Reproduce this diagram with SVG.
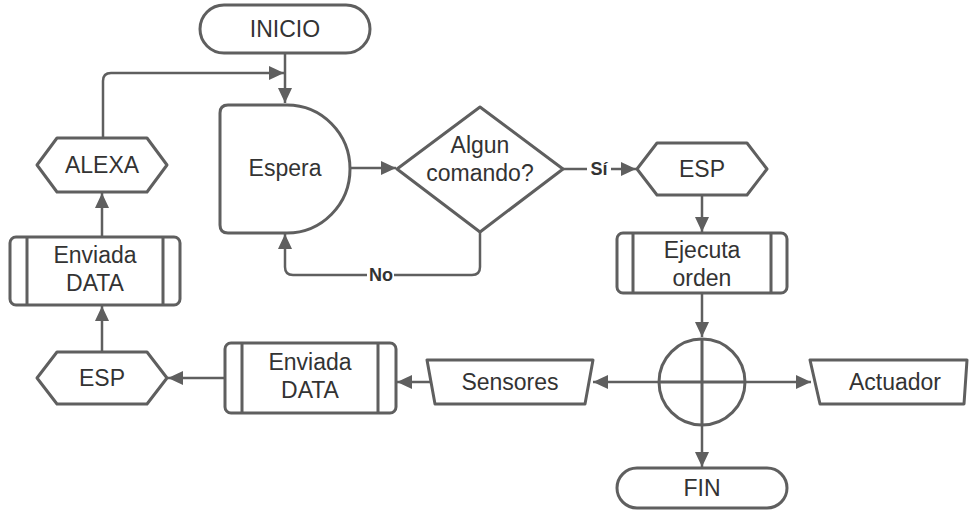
<svg xmlns="http://www.w3.org/2000/svg" width="969" height="510" viewBox="0 0 969 510">
<style>
.s{fill:#fff;stroke:#5f5f5f;stroke-width:3;stroke-linejoin:round}
.c{fill:none;stroke:#5f5f5f;stroke-width:2.5}
.t{font-family:"Liberation Sans",Arial,sans-serif;font-size:23px;fill:#333;text-anchor:middle}
.l{font-family:"Liberation Sans",Arial,sans-serif;font-size:18px;font-weight:bold;fill:#333;text-anchor:middle}
</style>
<defs>
<marker id="a" markerUnits="userSpaceOnUse" markerWidth="16" markerHeight="14" refX="15" refY="7" orient="auto">
<path d="M0,0 L15,7 L0,14 Z" fill="#5f5f5f"/>
</marker>
</defs>
<rect width="969" height="510" fill="#fff"/>
<g id="connectors">
<path class="c" d="M285,53 V103" marker-end="url(#a)"/>
<path class="c" d="M103,138 V81 Q103,73 111,73 H284" marker-end="url(#a)"/>
<path class="c" d="M350,168 H396" marker-end="url(#a)"/>
<path class="c" d="M563,169 H636" marker-end="url(#a)"/>
<path class="c" d="M702,195 V232" marker-end="url(#a)"/>
<path class="c" d="M702,293 V337" marker-end="url(#a)"/>
<path class="c" d="M659,382 H593" marker-end="url(#a)"/>
<path class="c" d="M745,382 H811" marker-end="url(#a)"/>
<path class="c" d="M702,426 V467" marker-end="url(#a)"/>
<path class="c" d="M430,382 H397" marker-end="url(#a)"/>
<path class="c" d="M225,378 H168" marker-end="url(#a)"/>
<path class="c" d="M102,352 V306" marker-end="url(#a)"/>
<path class="c" d="M102,237 V193" marker-end="url(#a)"/>
<path class="c" d="M480,232 V267 Q480,275 472,275 H293 Q285,275 285,267 V234" marker-end="url(#a)"/>
<rect x="587" y="160" width="24" height="18" fill="#fff"/>
<text class="l" x="599" y="175">Sí</text>
<rect x="367" y="266" width="27" height="18" fill="#fff"/>
<text class="l" x="381" y="281">No</text>
</g>
<g id="inicio">
<rect class="s" x="200" y="5" width="170" height="48" rx="24"/>
<text class="t" x="285" y="37">INICIO</text>
</g>
<g id="espera">
<path class="s" d="M228,105 H287 A63,64 0 0 1 287,233 H228 Q220,233 220,225 V113 Q220,105 228,105 Z"/>
<text class="t" x="285" y="176">Espera</text>
</g>
<g id="decision">
<path class="s" d="M480,107 L563,169 L480,232 L397,169 Z"/>
<text class="t" x="480" y="153">Algun</text>
<text class="t" x="480" y="181">comando?</text>
</g>
<g id="esp1">
<path class="s" d="M657,143 H747 L767,169 L747,195 H657 L637,169 Z"/>
<text class="t" x="702" y="177">ESP</text>
</g>
<g id="ejecuta">
<rect class="s" x="617" y="233" width="170" height="60" rx="6"/>
<path class="c" d="M633,233 V293 M771,233 V293" style="stroke-width:3"/>
<text class="t" x="702" y="258">Ejecuta</text>
<text class="t" x="702" y="286">orden</text>
</g>
<g id="or">
<circle class="s" cx="702" cy="382" r="43"/>
<path class="c" d="M702,339 V425 M659,382 H745" style="stroke-width:3"/>
</g>
<g id="sensores">
<path class="s" d="M427,360 H593 L585,404 H435 Z"/>
<text class="t" x="510" y="390">Sensores</text>
</g>
<g id="actuador">
<path class="s" d="M810,360 H967 L964,404 H820 Z"/>
<text class="t" x="895" y="390">Actuador</text>
</g>
<g id="fin">
<rect class="s" x="617" y="468" width="170" height="40" rx="20"/>
<text class="t" x="702" y="496">FIN</text>
</g>
<g id="enviada2">
<rect class="s" x="225" y="343" width="171" height="70" rx="6"/>
<path class="c" d="M242,343 V413 M378,343 V413" style="stroke-width:3"/>
<text class="t" x="310" y="370">Enviada</text>
<text class="t" x="310" y="398">DATA</text>
</g>
<g id="esp2">
<path class="s" d="M57,352 H147 L167,378 L147,404 H57 L37,378 Z"/>
<text class="t" x="102" y="386">ESP</text>
</g>
<g id="enviada1">
<rect class="s" x="10" y="237" width="170" height="68" rx="6"/>
<path class="c" d="M27,237 V305 M163,237 V305" style="stroke-width:3"/>
<text class="t" x="95" y="263">Enviada</text>
<text class="t" x="95" y="291">DATA</text>
</g>
<g id="alexa">
<path class="s" d="M57,138 H147 L167,165 L147,192 H57 L37,165 Z"/>
<text class="t" x="102" y="173">ALEXA</text>
</g>
</svg>
